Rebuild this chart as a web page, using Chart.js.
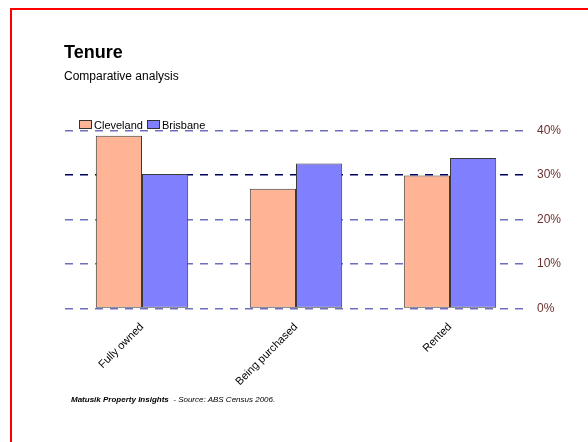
<!DOCTYPE html>
<html>
<head>
<meta charset="utf-8">
<script src="https://cdn.jsdelivr.net/npm/chart.js@4/dist/chart.umd.min.js"></script>
<style>
  body { margin: 0; width: 588px; height: 442px; overflow: hidden; background: #fff; font-family: "Liberation Sans", Arial, sans-serif; }
  #frame { position: absolute; left: 10px; top: 8px; width: 700px; height: 600px; border: 2px solid #ff0000; }
  #chart { position: absolute; left: 0; top: 0; }
  .txt { position: absolute; white-space: nowrap; color: #000; }
  #title { left: 64px; top: 42px; font-size: 18px; font-weight: bold; }
  #subtitle { left: 64px; top: 69px; font-size: 12px; }
  #legend { left: 79px; top: 119px; font-size: 11px; }
  #legend span.box { display: inline-block; width: 11px; height: 7px; border: 1px solid #333; margin-right: 2px; vertical-align: 0; }
  #legend span.item { margin-right: 4px; }
  #footer { left: 71px; top: 395px; font-size: 8px; font-style: italic; }
</style>
</head>
<body>
<div id="frame"></div>
<canvas id="chart" width="588" height="442"></canvas>
<div class="txt" id="title">Tenure</div>
<div class="txt" id="subtitle">Comparative analysis</div>
<div class="txt" id="legend"></div>
<div class="txt" id="footer"><b>Matusik Property Insights</b>&nbsp; - Source: ABS Census 2006.</div>
<script>
// categorias e valores (%)
const categorias = ['Fully owned', 'Being purchased', 'Rented'];
const cleveland = [38.8, 26.9, 29.9];
const brisbane = [30.2, 32.6, 33.8];
const series = ['Cleveland', 'Brisbane'];
const cores = ['#ffb496', '#8080ff'];

// legenda em HTML
const legenda = document.getElementById('legend');
series.forEach((nome, i) => {
    const item = document.createElement('span');
    item.className = 'item';
    item.innerHTML = `<span class="box" style="background:${cores[i]}"></span>${nome}`;
    legenda.appendChild(item);
});

new Chart(document.getElementById('chart'), {
    type: 'bar',
    data: {
        labels: categorias,
        datasets: [
            { label: series[0], data: cleveland, backgroundColor: cores[0], borderColor: '#3a3a3a', borderWidth: 1, borderSkipped: false },
            { label: series[1], data: brisbane, backgroundColor: cores[1], borderColor: '#3a3a3a', borderWidth: 1, borderSkipped: false }
        ]
    },
    options: {
        responsive: false,
        animation: false,
        layout: { padding: { left: 65, right: 0, top: 130.5, bottom: 33.5 } },
        datasets: { bar: { categoryPercentage: 0.6, barPercentage: 1 } },
        plugins: { legend: { display: false }, tooltip: { enabled: false } },
        scales: {
            x: {
                grid: { display: false },
                border: { display: false },
                ticks: {
                    minRotation: 45, maxRotation: 45, padding: 4,
                    color: '#000',
                    font: { family: '"Liberation Sans", Arial', size: 11 }
                },
                afterFit: s => { s.height = 100; }
            },
            y: {
                position: 'right',
                min: 0, max: 40,
                grid: {
                    drawTicks: false,
                    lineWidth: 1.5,
                    color: c => c.tick && c.tick.value === 30 ? '#000060' : '#6e6ebe'
                },
                border: { display: false, dash: [8, 7] },
                ticks: {
                    stepSize: 10, padding: 10,
                    color: '#6b2f2f',
                    font: { family: '"Liberation Sans", Arial', size: 12 },
                    callback: v => v + '%'
                },
                afterFit: s => { s.width = 61; }
            }
        }
    }
});
</script>
</body>
</html>
